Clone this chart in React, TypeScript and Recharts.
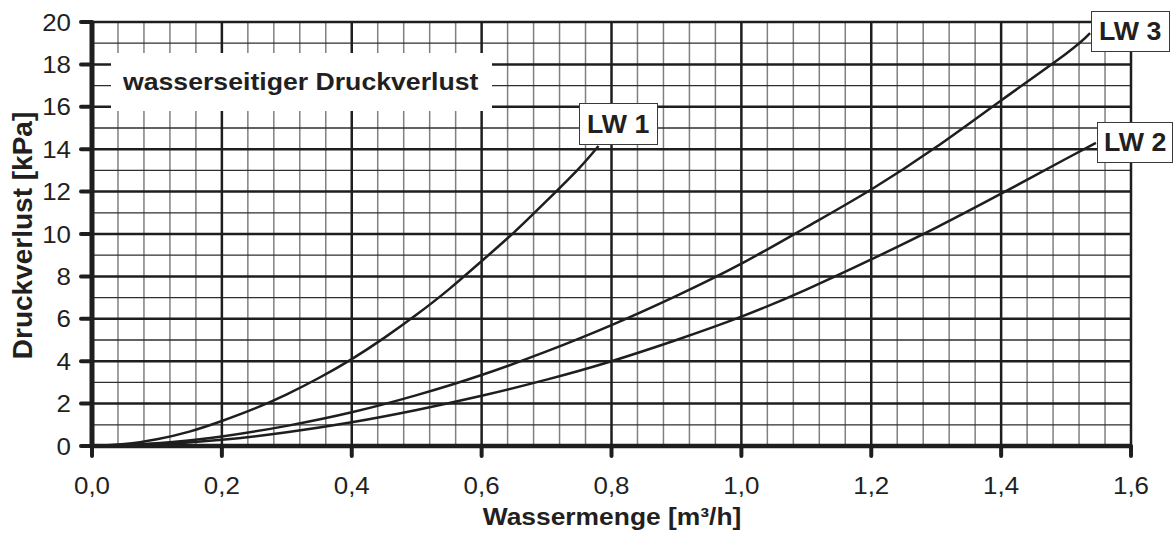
import React from 'react';
import { LineChart, Line, XAxis, YAxis, ReferenceLine } from 'recharts';

// ---- data ----
const flowLW1 = [0, 0.05, 0.1, 0.15, 0.2, 0.25, 0.3, 0.35, 0.4, 0.45, 0.5, 0.55, 0.6, 0.65, 0.7, 0.75, 0.78];
const lossLW1 = [0, 0.09, 0.32, 0.68, 1.18, 1.76, 2.44, 3.22, 4.1, 5.1, 6.2, 7.4, 8.72, 10.08, 11.56, 13.1, 14.15];

const flowLW2 = [0, 0.1, 0.2, 0.3, 0.4, 0.5, 0.6, 0.7, 0.8, 0.9, 1.0, 1.1, 1.2, 1.3, 1.4, 1.5, 1.546];
const lossLW2 = [0, 0.08, 0.29, 0.65, 1.12, 1.7, 2.37, 3.13, 4.0, 5.0, 6.1, 7.38, 8.8, 10.3, 11.9, 13.55, 14.3];

const flowLW3 = [0, 0.1, 0.2, 0.3, 0.4, 0.5, 0.6, 0.7, 0.8, 0.9, 1.0, 1.1, 1.2, 1.3, 1.4, 1.5, 1.537];
const lossLW3 = [0, 0.13, 0.45, 0.95, 1.59, 2.4, 3.35, 4.46, 5.7, 7.08, 8.6, 10.32, 12.1, 14.1, 16.3, 18.5, 19.47];

const xTicks = [0, 0.2, 0.4, 0.6, 0.8, 1.0, 1.2, 1.4, 1.6];
const yTicks = [0, 2, 4, 6, 8, 10, 12, 14, 16, 18, 20];

const majorGridX = [0.2, 0.4, 0.6, 0.8, 1.0, 1.2, 1.4, 1.6];
const minorGridX = [
  0.04, 0.08, 0.12, 0.16, 0.24, 0.28, 0.32, 0.36, 0.44, 0.48, 0.52, 0.56,
  0.64, 0.68, 0.72, 0.76, 0.84, 0.88, 0.92, 0.96, 1.04, 1.08, 1.12, 1.16,
  1.24, 1.28, 1.32, 1.36, 1.44, 1.48, 1.52, 1.56,
];
const majorGridY = [2, 4, 6, 8, 10, 12, 14, 16, 18, 20];
const minorGridY = [1, 3, 5, 7, 9, 11, 13, 15, 17, 19];

const seriesNames = ['LW 1', 'LW 2', 'LW 3'];
const chartTitle = 'wasserseitiger Druckverlust';
const xTitle = 'Wassermenge [m³/h]';
const yTitle = 'Druckverlust [kPa]';

const toPoints = (xs: number[], ys: number[]) => xs.map((x, i) => ({ x, y: ys[i] }));
const lw1 = toPoints(flowLW1, lossLW1);
const lw2 = toPoints(flowLW2, lossLW2);
const lw3 = toPoints(flowLW3, lossLW3);

const FONT = '"Liberation Sans", Arial, Helvetica, sans-serif';
const INK = '#231f20';
const fmt = (v: number) => v.toFixed(1).replace('.', ',');

const XTick = (props: any) => {
  const { x, y, payload } = props;
  return (
    <g transform={`translate(${x},${y}) scale(1.08,1)`}>
      <text x={0} y={0} dy="0.71em" textAnchor="middle" fontSize={24} fontFamily={FONT} fill={INK}>
        {fmt(payload.value)}
      </text>
    </g>
  );
};

const YTick = (props: any) => {
  const { x, y, payload } = props;
  return (
    <g transform={`translate(${x},${y}) scale(1.08,1)`}>
      <text x={0} y={0} dy="0.355em" textAnchor="end" fontSize={24} fontFamily={FONT} fill={INK}>
        {String(payload.value)}
      </text>
    </g>
  );
};

const XTitle = () => (
  <g transform="translate(612,525) scale(1.1,1)">
    <text x={0} y={0} textAnchor="middle" fontSize={24} fontWeight="bold" fontFamily={FONT} fill={INK}>
      {xTitle}
    </text>
  </g>
);

const YTitle = () => (
  <text
    x={32}
    y={235.5}
    transform="rotate(-90 32 235.5)"
    textAnchor="middle"
    fontSize={28}
    fontWeight="bold"
    fontFamily={FONT}
    fill={INK}
  >
    {yTitle}
  </text>
);

const boxStyle = (left: number, top: number, width: number, height: number): React.CSSProperties => ({
  position: 'absolute',
  left,
  top,
  width,
  height,
  boxSizing: 'border-box',
  background: '#fff',
  border: '1.5px solid #3a3a3a',
  display: 'flex',
  alignItems: 'center',
  justifyContent: 'center',
  fontFamily: FONT,
  fontWeight: 'bold',
  fontSize: 25,
  color: INK,
  whiteSpace: 'nowrap',
});

const BoxLabel = ({ text, left, top, width, height }: any) => (
  <div style={boxStyle(left, top, width, height)}>
    <span style={{ display: 'inline-block', transform: 'scaleX(1.07)' }}>{text}</span>
  </div>
);

const MAJOR = '#1e1e1e';

export default function App() {
  return (
    <div style={{ position: 'absolute', left: 0, top: 0, width: 1173, height: 534, overflow: 'hidden', background: '#fff' }}>
      <LineChart width={1173} height={534} margin={{ top: 22, right: 42, bottom: 0, left: 0 }}>
        <XAxis
          type="number"
          dataKey="x"
          domain={[0, 1.6]}
          ticks={xTicks}
          interval={0}
          height={88}
          tickSize={10}
          tickMargin={21}
          axisLine={{ stroke: MAJOR, strokeWidth: 4.5 }}
          tickLine={{ stroke: MAJOR, strokeWidth: 4, strokeLinecap: 'round' }}
          tick={<XTick />}
          label={<XTitle />}
        />
        <YAxis
          type="number"
          domain={[0, 20]}
          ticks={yTicks}
          interval={0}
          width={92}
          tickSize={11}
          tickMargin={10}
          axisLine={{ stroke: MAJOR, strokeWidth: 5 }}
          tickLine={{ stroke: MAJOR, strokeWidth: 4, strokeLinecap: 'round' }}
          tick={<YTick />}
          label={<YTitle />}
        />
        {minorGridX.map((v) => (
          <ReferenceLine key={'mx' + v} x={v} stroke="#808080" strokeWidth={1.5} />
        ))}
        {minorGridY.map((v) => (
          <ReferenceLine key={'my' + v} y={v} stroke="#2e2e2e" strokeWidth={1.3} />
        ))}
        {majorGridX.map((v) => (
          <ReferenceLine key={'Mx' + v} x={v} stroke={MAJOR} strokeWidth={2.5} />
        ))}
        {majorGridY.map((v) => (
          <ReferenceLine key={'My' + v} y={v} stroke={MAJOR} strokeWidth={2.5} />
        ))}
        <Line data={lw1} dataKey="y" name={seriesNames[0]} type="natural" stroke={MAJOR} strokeWidth={2.5} dot={false} isAnimationActive={false} />
        <Line data={lw2} dataKey="y" name={seriesNames[1]} type="natural" stroke={MAJOR} strokeWidth={2.5} dot={false} isAnimationActive={false} />
        <Line data={lw3} dataKey="y" name={seriesNames[2]} type="natural" stroke={MAJOR} strokeWidth={2.5} dot={false} isAnimationActive={false} />
      </LineChart>

      <div
        style={{
          position: 'absolute',
          left: 111,
          top: 53,
          width: 381,
          height: 58,
          background: '#fff',
          display: 'flex',
          alignItems: 'center',
          paddingLeft: 12,
          boxSizing: 'border-box',
          fontFamily: FONT,
          fontWeight: 'bold',
          fontSize: 24,
          color: INK,
          whiteSpace: 'nowrap',
        }}
      >
        <span style={{ display: 'inline-block', transform: 'scaleX(1.11)', transformOrigin: 'left center' }}>{chartTitle}</span>
      </div>

      <BoxLabel text={seriesNames[0]} left={579} top={103} width={79} height={42} />
      <BoxLabel text={seriesNames[2]} left={1091} top={11} width={79} height={41} />
      <BoxLabel text={seriesNames[1]} left={1097} top={122} width={76} height={41} />
    </div>
  );
}
